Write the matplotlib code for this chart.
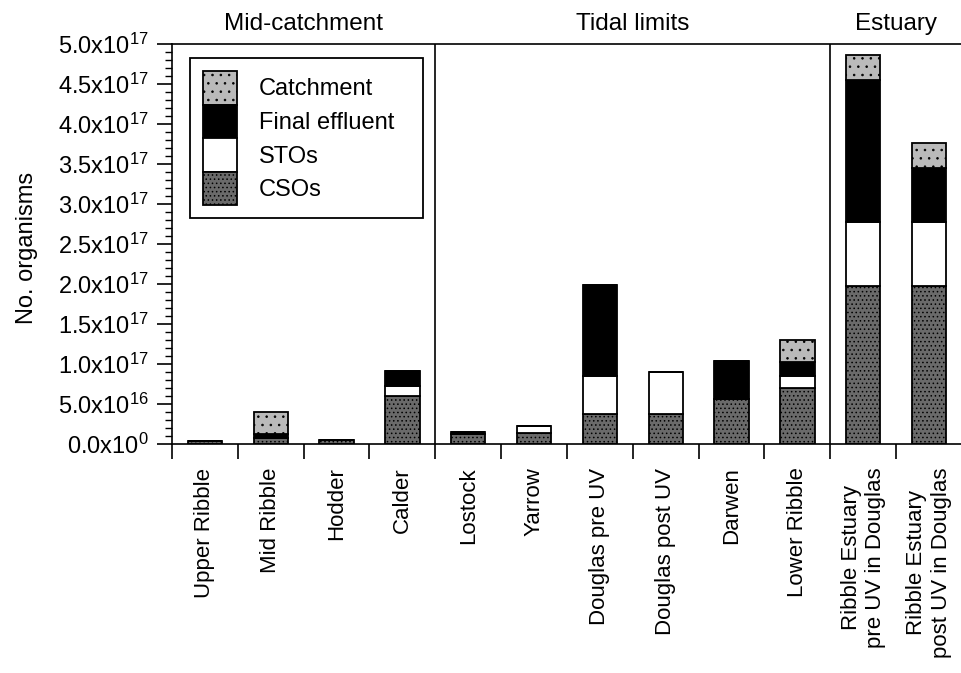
import matplotlib
matplotlib.use("Agg")
import matplotlib.pyplot as plt
import matplotlib.transforms as mtransforms
from matplotlib.ticker import FuncFormatter, MultipleLocator
import numpy as np

plt.rcParams['font.family'] = ['Liberation Sans', 'DejaVu Sans']
plt.rcParams['mathtext.default'] = 'regular'
plt.rcParams['hatch.linewidth'] = 0.6

# site names (x axis)
sites = ['Upper Ribble', 'Mid Ribble', 'Hodder', 'Calder', 'Lostock', 'Yarrow',
         'Douglas pre UV', 'Douglas post UV', 'Darwen', 'Lower Ribble',
         'Ribble Estuary\npre UV in Douglas', 'Ribble Estuary\npost UV in Douglas']

# contributions, in units of 1e16 organisms
csos = [0.35, 0.8, 0.45, 6.0, 1.2, 1.4, 3.7, 3.75, 5.6, 7.0, 19.8, 19.8]
stos = [0, 0, 0, 1.25, 0, 0.8, 4.8, 5.2, 0, 1.45, 8.0, 8.0]
final_effluent = [0, 0.5, 0, 1.9, 0.3, 0, 11.4, 0, 4.8, 1.8, 17.7, 6.7]
catchment = [0, 2.7, 0, 0, 0, 0, 0, 0, 0, 2.7, 3.1, 3.1]

groups = ['Mid-catchment', 'Tidal limits', 'Estuary']
group_sizes = [4, 6, 2]

scale = 1e16
x = np.arange(len(sites))
csos = np.array(csos) * scale
stos = np.array(stos) * scale
final_effluent = np.array(final_effluent) * scale
catchment = np.array(catchment) * scale

fig = plt.figure(figsize=(9.62, 6.73), dpi=100)
ax = fig.add_axes([172 / 962, 229 / 673, 790 / 962, 400 / 673])

w = 0.52
lw = 1.3
b1 = ax.bar(x, csos, w, color='#6a6a6a', edgecolor='black', linewidth=lw, hatch='....', label='CSOs')
b2 = ax.bar(x, stos, w, bottom=csos, color='white', edgecolor='black', linewidth=lw, label='STOs')
b3 = ax.bar(x, final_effluent, w, bottom=csos + stos, color='black', edgecolor='black', linewidth=lw,
            label='Final effluent')
b4 = ax.bar(x, catchment, w, bottom=csos + stos + final_effluent, color='#bababa', edgecolor='black',
            linewidth=lw, hatch='..', label='Catchment')

ax.set_xlim(-0.5, len(sites) - 0.5)
ax.set_ylim(0, 5e17)

# group separators and titles
edges = np.cumsum(group_sizes) - 0.5
for e in edges[:-1]:
    ax.axvline(e, color='black', linewidth=1.2)
trans = mtransforms.blended_transform_factory(ax.transData, ax.transAxes)
start = -0.5
for g, n in zip(groups, group_sizes):
    ax.text(start + n / 2, 1.05, g, transform=trans, ha='center', va='center', fontsize=17.5)
    start += n

# x ticks at boundaries, labels at centres
ax.set_xticks(np.arange(len(sites) + 1) - 0.5)
ax.set_xticklabels([])
ax.set_xticks(x, minor=True)
ax.set_xticklabels(sites, minor=True, rotation=90, ha='center', va='top', fontsize=16)
ax.tick_params(axis='x', which='major', direction='out', length=11, width=1.2)
ax.tick_params(axis='x', which='minor', length=0, pad=17)


def sci(v, pos):
    if v <= 0:
        return '0.0x10$^{0}$'
    e = int(np.floor(np.log10(v) + 1e-9))
    m = v / 10 ** e
    return '%.1fx10$^{%d}$' % (m, e)


ax.yaxis.set_major_locator(MultipleLocator(5e16))
ax.yaxis.set_minor_locator(MultipleLocator(1e16))
ax.yaxis.set_major_formatter(FuncFormatter(sci))
ax.tick_params(axis='y', which='major', direction='out', length=11, width=1.2, labelsize=17, pad=6)
ax.tick_params(axis='y', which='minor', direction='out', length=5, width=1.0)

ax.set_ylabel('No. organisms', fontsize=17)
ax.yaxis.set_label_coords(-0.17, 0.49)

for s in ax.spines.values():
    s.set_linewidth(1.2)
ax.spines['right'].set_visible(False)

leg = ax.legend(handles=[b4, b3, b2, b1], loc='upper left', bbox_to_anchor=(0.0228, 0.5, 0.295, 0.465),
                mode='expand', borderaxespad=0, fontsize=17, labelspacing=0, handlelength=1.44,
                handleheight=1.81, handletextpad=0.93, borderpad=0.55, fancybox=False, framealpha=1,
                edgecolor='black')
leg.get_frame().set_linewidth(1.3)

fig.savefig('out.png', dpi=100)
